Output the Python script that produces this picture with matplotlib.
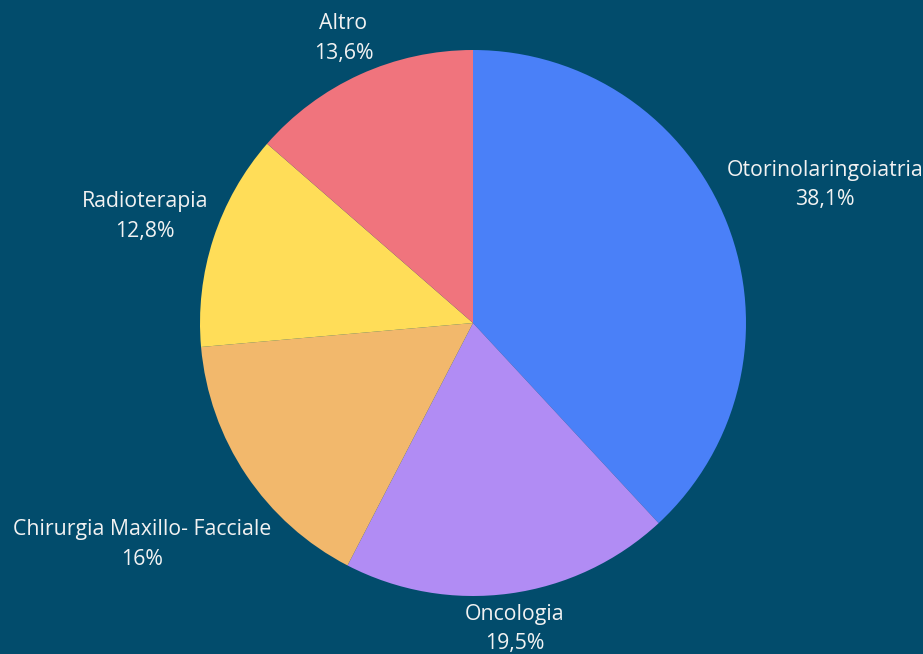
import numpy as np
import matplotlib.pyplot as plt

labels = ["Otorinolaringoiatria", "Oncologia", "Chirurgia Maxillo- Facciale", "Radioterapia", "Altro"]
values = [38.1, 19.5, 16.0, 12.8, 13.6]
pct_text = ["38,1%", "19,5%", "16%", "12,8%", "13,6%"]
colors = ["#4A80F8", "#B18CF4", "#F2B86C", "#FFDD58", "#F0747D"]

bg = "#024C6C"
plt.rcParams['font.family'] = ['Open Sans', 'DejaVu Sans']

W, H = 923, 654
fig = plt.figure(figsize=(W / 100, H / 100), dpi=100, facecolor=bg)

# pie placement in pixels
cx, cy, R = 473, 654 - 323, 273
ax = fig.add_axes([(cx - R) / W, (cy - R) / H, 2 * R / W, 2 * R / H])
ax.set_facecolor(bg)
ax.axis("off")

wedges, _ = ax.pie(values, colors=colors, startangle=90, counterclock=False,
                   radius=1, wedgeprops=dict(linewidth=0))
ax.set_xlim(-1, 1)
ax.set_ylim(-1, 1)

fig.canvas.draw()
renderer = fig.canvas.get_renderer()
gap = 4
for w, lab, pct in zip(wedges, labels, pct_text):
    ang = np.deg2rad((w.theta1 + w.theta2) / 2)
    t = ax.text(0, 0, lab + "\n" + pct, ha="center", va="center",
                color="#F2F2F2", fontsize=15.3, linespacing=1.55)
    bb = t.get_window_extent(renderer)
    ext = bb.width / 2 * abs(np.cos(ang)) + bb.height / 2 * abs(np.sin(ang))
    d = (R + gap + ext) / R
    t.set_position((d * np.cos(ang), d * np.sin(ang)))
    t.set_clip_on(False)

fig.savefig("out.png", dpi=100, facecolor=bg)
